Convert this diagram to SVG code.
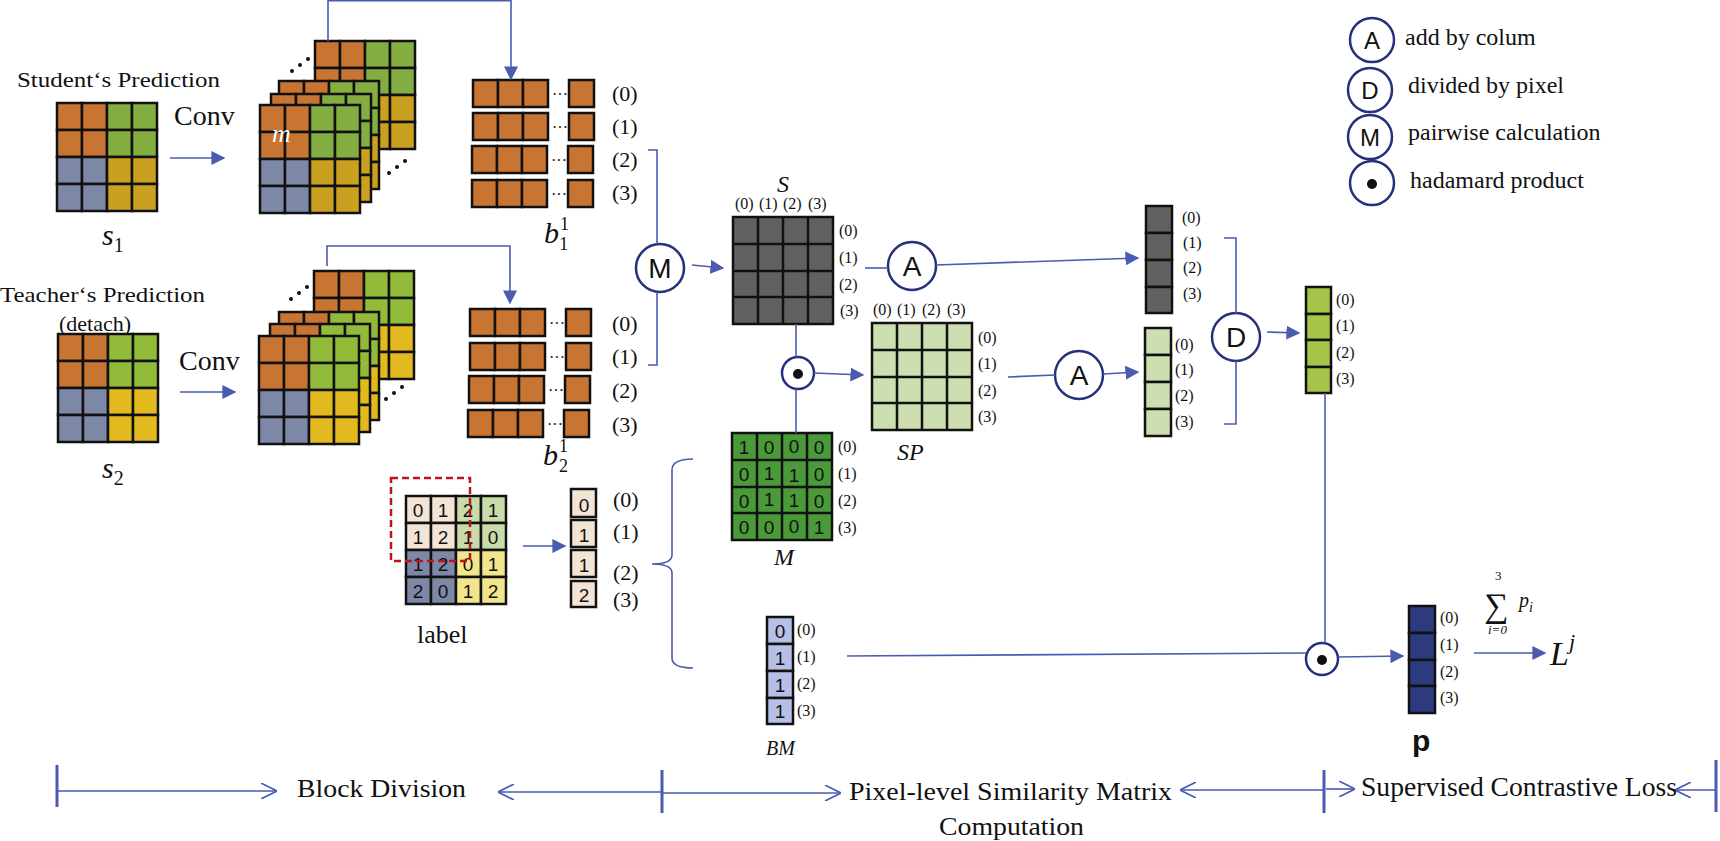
<svg xmlns="http://www.w3.org/2000/svg" xmlns:xlink="http://www.w3.org/1999/xlink" width="1720" height="841" viewBox="0 0 1720 841">
<style>
.c{stroke:#111;stroke-width:2.5}
.o{fill:#c87533}.g{fill:#84ad42}.b{fill:#7d87a6}.y{fill:#c9a020}.g2{fill:#92bb3a}.y2{fill:#e2b91e}
.ln{fill:none;stroke:#4a5bb0;stroke-width:1.6}
.op{fill:#fff;stroke:#27307a;stroke-width:2.5}
.sym{font-family:"Liberation Sans",Arial,sans-serif;font-size:28px;fill:#111;text-anchor:middle}
.ser{font-family:"Liberation Serif","Times New Roman",serif;fill:#111}
.idx{font-family:"Liberation Serif","Times New Roman",serif;font-size:16px;fill:#111}
.idb{font-family:"Liberation Serif","Times New Roman",serif;font-size:22px;fill:#111}
.it{font-family:"Liberation Serif","Times New Roman",serif;font-style:italic;fill:#111}
.num{font-family:"Liberation Sans",Arial,sans-serif;font-size:19px;fill:#111;text-anchor:middle}
.dt{fill:#111}
</style>
<defs>
<marker id="ah" viewBox="0 0 10 10" refX="9" refY="5" markerWidth="8" markerHeight="8" orient="auto" markerUnits="userSpaceOnUse"><path d="M0,0 L10,5 L0,10 z" fill="#4a5bb0"/></marker>
<marker id="ah2" viewBox="0 0 10 10" refX="9" refY="5" markerWidth="14" markerHeight="14" orient="auto" markerUnits="userSpaceOnUse"><path d="M0,0 L10,5 L0,10 z" fill="#4a5bb0"/></marker>
<marker id="chev" viewBox="0 0 10 10" refX="10" refY="5" markerWidth="16" markerHeight="16" orient="auto" markerUnits="userSpaceOnUse"><path d="M0,0 L10,5 L0,10" fill="none" stroke="#4a5bb0" stroke-width="1"/></marker>
<g id="gA">
<rect class="c o" x="0" y="0" width="25" height="27"/><rect class="c o" x="25" y="0" width="25" height="27"/><rect class="c g" x="50" y="0" width="25" height="27"/><rect class="c g" x="75" y="0" width="25" height="27"/>
<rect class="c o" x="0" y="27" width="25" height="27"/><rect class="c o" x="25" y="27" width="25" height="27"/><rect class="c g" x="50" y="27" width="25" height="27"/><rect class="c g" x="75" y="27" width="25" height="27"/>
<rect class="c b" x="0" y="54" width="25" height="27"/><rect class="c b" x="25" y="54" width="25" height="27"/><rect class="c y" x="50" y="54" width="25" height="27"/><rect class="c y" x="75" y="54" width="25" height="27"/>
<rect class="c b" x="0" y="81" width="25" height="27"/><rect class="c b" x="25" y="81" width="25" height="27"/><rect class="c y" x="50" y="81" width="25" height="27"/><rect class="c y" x="75" y="81" width="25" height="27"/>
</g>
<g id="gB">
<rect class="c o" x="0" y="0" width="25" height="27"/><rect class="c o" x="25" y="0" width="25" height="27"/><rect class="c g2" x="50" y="0" width="25" height="27"/><rect class="c g2" x="75" y="0" width="25" height="27"/>
<rect class="c o" x="0" y="27" width="25" height="27"/><rect class="c o" x="25" y="27" width="25" height="27"/><rect class="c g2" x="50" y="27" width="25" height="27"/><rect class="c g2" x="75" y="27" width="25" height="27"/>
<rect class="c b" x="0" y="54" width="25" height="27"/><rect class="c b" x="25" y="54" width="25" height="27"/><rect class="c y2" x="50" y="54" width="25" height="27"/><rect class="c y2" x="75" y="54" width="25" height="27"/>
<rect class="c b" x="0" y="81" width="25" height="27"/><rect class="c b" x="25" y="81" width="25" height="27"/><rect class="c y2" x="50" y="81" width="25" height="27"/><rect class="c y2" x="75" y="81" width="25" height="27"/>
</g>
<g id="brow">
<rect class="c o" x="0" y="0" width="25" height="27"/><rect class="c o" x="25" y="0" width="25" height="27"/><rect class="c o" x="50" y="0" width="25" height="27"/>
<text x="79" y="20" class="idx">···</text>
<rect class="c o" x="96" y="0" width="25" height="27"/>
</g>
<g id="dots"><circle cx="0" cy="14" r="2" class="dt"/><circle cx="8" cy="8" r="2" class="dt"/><circle cx="16" cy="2" r="2" class="dt"/></g>
</defs>

<!-- Legend -->
<g id="legend">
<circle class="op" cx="1372" cy="40" r="22"/><text class="sym" x="1372" y="49" style="font-size:24px">A</text>
<text class="ser" x="1405" y="45" font-size="24">add by colum</text>
<circle class="op" cx="1370" cy="90" r="22"/><text class="sym" x="1370" y="99" style="font-size:24px">D</text>
<text class="ser" x="1408" y="93" font-size="24">divided by pixel</text>
<circle class="op" cx="1370" cy="137" r="22"/><text class="sym" x="1370" y="146" style="font-size:24px">M</text>
<text class="ser" x="1408" y="140" font-size="24">pairwise calculation</text>
<circle class="op" cx="1372" cy="183" r="22"/><circle cx="1372" cy="184" r="5" class="dt"/>
<text class="ser" x="1410" y="188" font-size="24">hadamard product</text>
</g>

<!-- Student -->
<g id="student">
<text class="ser" x="17" y="87" font-size="22" textLength="203" lengthAdjust="spacingAndGlyphs">Student‘s Prediction</text>
<use xlink:href="#gA" x="57" y="103"/>
<text class="it" x="102" y="245" font-size="30">s<tspan font-size="20" dy="7" font-style="normal">1</tspan></text>
<text class="ser" x="174" y="125" font-size="28">Conv</text>
</g>
<g id="stack1">
<use xlink:href="#gA" x="315" y="41"/>
<use xlink:href="#gA" x="279" y="81"/>
<use xlink:href="#gA" x="271" y="94"/>
<use xlink:href="#gA" x="260" y="105"/>
<text class="it" x="272" y="142" font-size="26" fill="#fff" style="fill:#fff">m</text>
<use xlink:href="#dots" x="292" y="57"/>
<use xlink:href="#dots" x="389" y="159"/>
</g>
<g id="b11">
<use xlink:href="#brow" x="473" y="80"/>
<use xlink:href="#brow" x="473" y="113"/>
<use xlink:href="#brow" x="472" y="146"/>
<use xlink:href="#brow" x="472" y="180"/>
<text class="idb" x="612" y="101">(0)</text><text class="idb" x="612" y="134">(1)</text><text class="idb" x="612" y="167">(2)</text><text class="idb" x="612" y="200">(3)</text>
<text class="it" x="544" y="243" font-size="30">b<tspan font-size="18" dx="1" dy="-13" font-style="normal">1</tspan><tspan font-size="18" dx="-9" dy="20" font-style="normal">1</tspan></text>
</g>

<!-- Teacher -->
<g id="teacher">
<text class="ser" x="0" y="302" font-size="22" textLength="205" lengthAdjust="spacingAndGlyphs">Teacher‘s Prediction</text>
<text class="ser" x="59" y="331" font-size="22">(detach)</text>
<use xlink:href="#gB" x="58" y="334"/>
<text class="it" x="102" y="478" font-size="30">s<tspan font-size="20" dy="7" font-style="normal">2</tspan></text>
<text class="ser" x="179" y="370" font-size="28">Conv</text>
</g>
<g id="stack2">
<use xlink:href="#gB" x="314" y="271"/>
<use xlink:href="#gB" x="279" y="312"/>
<use xlink:href="#gB" x="270" y="324"/>
<use xlink:href="#gB" x="259" y="336"/>
<use xlink:href="#dots" x="291" y="285"/>
<use xlink:href="#dots" x="386" y="385"/>
</g>
<g id="b21">
<use xlink:href="#brow" x="470" y="309"/>
<use xlink:href="#brow" x="470" y="343"/>
<use xlink:href="#brow" x="469" y="376"/>
<use xlink:href="#brow" x="468" y="410"/>
<text class="idb" x="612" y="331">(0)</text><text class="idb" x="612" y="364">(1)</text><text class="idb" x="612" y="398">(2)</text><text class="idb" x="612" y="432">(3)</text>
<text class="it" x="543" y="465" font-size="30">b<tspan font-size="18" dx="1" dy="-13" font-style="normal">1</tspan><tspan font-size="18" dx="-9" dy="20" font-style="normal">2</tspan></text>
</g>

<!-- label -->
<g id="label">
<rect class="c" fill="#f3e4d6" x="406" y="496" width="25" height="27"/><rect class="c" fill="#f3e4d6" x="431" y="496" width="25" height="27"/><rect class="c" fill="#c9dba9" x="456" y="496" width="25" height="27"/><rect class="c" fill="#c9dba9" x="481" y="496" width="25" height="27"/>
<rect class="c" fill="#f3e4d6" x="406" y="523" width="25" height="27"/><rect class="c" fill="#f3e4d6" x="431" y="523" width="25" height="27"/><rect class="c" fill="#c9dba9" x="456" y="523" width="25" height="27"/><rect class="c" fill="#c9dba9" x="481" y="523" width="25" height="27"/>
<rect class="c" fill="#7d87a6" x="406" y="550" width="25" height="27"/><rect class="c" fill="#7d87a6" x="431" y="550" width="25" height="27"/><rect class="c" fill="#f3e58c" x="456" y="550" width="25" height="27"/><rect class="c" fill="#f3e58c" x="481" y="550" width="25" height="27"/>
<rect class="c" fill="#7d87a6" x="406" y="577" width="25" height="27"/><rect class="c" fill="#7d87a6" x="431" y="577" width="25" height="27"/><rect class="c" fill="#f3e58c" x="456" y="577" width="25" height="27"/><rect class="c" fill="#f3e58c" x="481" y="577" width="25" height="27"/>
<text class="num" x="418" y="517">0</text><text class="num" x="443" y="517">1</text><text class="num" x="468" y="517">2</text><text class="num" x="493" y="517">1</text>
<text class="num" x="418" y="544">1</text><text class="num" x="443" y="544">2</text><text class="num" x="468" y="544">1</text><text class="num" x="493" y="544">0</text>
<text class="num" x="418" y="571">1</text><text class="num" x="443" y="571">2</text><text class="num" x="468" y="571">0</text><text class="num" x="493" y="571">1</text>
<text class="num" x="418" y="598">2</text><text class="num" x="443" y="598">0</text><text class="num" x="468" y="598">1</text><text class="num" x="493" y="598">2</text>
<rect x="391" y="478" width="79" height="83" fill="none" stroke="#c0141c" stroke-width="2.5" stroke-dasharray="7,4"/>
<text class="ser" x="417" y="643" font-size="26">label</text>
</g>
<g id="labelcol">
<rect class="c" fill="#f3e4d6" x="571" y="489" width="25" height="28"/><rect class="c" fill="#f3e4d6" x="571" y="520" width="25" height="27"/><rect class="c" fill="#f3e4d6" x="571" y="550" width="25" height="27"/><rect class="c" fill="#f3e4d6" x="571" y="581" width="25" height="26"/>
<text class="num" x="584" y="512">0</text><text class="num" x="584" y="542">1</text><text class="num" x="584" y="572">1</text><text class="num" x="584" y="602">2</text>
<text class="idb" x="613" y="507">(0)</text><text class="idb" x="613" y="539">(1)</text><text class="idb" x="613" y="580">(2)</text><text class="idb" x="613" y="607">(3)</text>
</g>

<!-- S matrix -->
<g id="S">
<rect x="733" y="217" width="100" height="107" fill="#636060" stroke="#111" stroke-width="2.5"/>
<path d="M758,217V324M783,217V324M808,217V324M733,244H833M733,271H833M733,297H833" stroke="#111" stroke-width="2.5"/>
<text class="it" x="777" y="192" font-size="24">S</text>
<text class="idx" x="735" y="209">(0)</text><text class="idx" x="759" y="209">(1)</text><text class="idx" x="783" y="209">(2)</text><text class="idx" x="808" y="209">(3)</text>
<text class="idx" x="839" y="236">(0)</text><text class="idx" x="839" y="263">(1)</text><text class="idx" x="839" y="290">(2)</text><text class="idx" x="840" y="316">(3)</text>
</g>
<!-- SP matrix -->
<g id="SP">
<rect x="872" y="323" width="100" height="107" fill="#cddeb0" stroke="#111" stroke-width="2.5"/>
<path d="M897,323V430M922,323V430M947,323V430M872,350H972M872,377H972M872,403H972" stroke="#111" stroke-width="2.5"/>
<text class="idx" x="873" y="315">(0)</text><text class="idx" x="897" y="315">(1)</text><text class="idx" x="922" y="315">(2)</text><text class="idx" x="947" y="315">(3)</text>
<text class="idx" x="978" y="343">(0)</text><text class="idx" x="978" y="369">(1)</text><text class="idx" x="978" y="396">(2)</text><text class="idx" x="978" y="422">(3)</text>
<text class="it" x="897" y="460" font-size="24">SP</text>
</g>
<!-- M matrix -->
<g id="Mmat">
<rect x="732" y="433" width="100" height="107" fill="#4a9a3a" stroke="#111" stroke-width="2.5"/>
<path d="M757,433V540M782,433V540M807,433V540M732,460H832M732,487H832M732,513H832" stroke="#111" stroke-width="2.5"/>
<text class="num" x="744" y="454">1</text><text class="num" x="769" y="454">0</text><text class="num" x="794" y="453">0</text><text class="num" x="819" y="454">0</text>
<text class="num" x="744" y="481">0</text><text class="num" x="769" y="480">1</text><text class="num" x="794" y="482">1</text><text class="num" x="819" y="481">0</text>
<text class="num" x="744" y="508">0</text><text class="num" x="769" y="506">1</text><text class="num" x="794" y="507">1</text><text class="num" x="819" y="508">0</text>
<text class="num" x="744" y="534">0</text><text class="num" x="769" y="534">0</text><text class="num" x="794" y="533">0</text><text class="num" x="819" y="534">1</text>
<text class="idx" x="838" y="452">(0)</text><text class="idx" x="838" y="479">(1)</text><text class="idx" x="838" y="506">(2)</text><text class="idx" x="838" y="533">(3)</text>
<text class="it" x="774" y="565" font-size="24">M</text>
</g>
<!-- BM -->
<g id="BM">
<rect class="c" fill="#b6bfe6" x="767" y="617" width="26" height="27"/><rect class="c" fill="#b6bfe6" x="767" y="644" width="26" height="27"/><rect class="c" fill="#b6bfe6" x="767" y="671" width="26" height="27"/><rect class="c" fill="#b6bfe6" x="767" y="698" width="26" height="26"/>
<text class="num" x="780" y="638">0</text><text class="num" x="780" y="665">1</text><text class="num" x="780" y="692">1</text><text class="num" x="780" y="718">1</text>
<text class="idx" x="797" y="635">(0)</text><text class="idx" x="797" y="662">(1)</text><text class="idx" x="797" y="689">(2)</text><text class="idx" x="797" y="716">(3)</text>
<text class="it" x="766" y="755" font-size="20">BM</text>
</g>
<!-- column vectors -->
<g id="colS">
<rect class="c" fill="#636060" x="1146" y="206" width="26" height="27"/><rect class="c" fill="#636060" x="1146" y="233" width="26" height="27"/><rect class="c" fill="#636060" x="1146" y="260" width="26" height="27"/><rect class="c" fill="#636060" x="1146" y="287" width="26" height="26"/>
<text class="idx" x="1182" y="223">(0)</text><text class="idx" x="1183" y="248">(1)</text><text class="idx" x="1183" y="273">(2)</text><text class="idx" x="1183" y="299">(3)</text>
</g>
<g id="colSP">
<rect class="c" fill="#cddeb0" x="1145" y="328" width="26" height="27"/><rect class="c" fill="#cddeb0" x="1145" y="355" width="26" height="27"/><rect class="c" fill="#cddeb0" x="1145" y="382" width="26" height="27"/><rect class="c" fill="#cddeb0" x="1145" y="409" width="26" height="27"/>
<text class="idx" x="1175" y="350">(0)</text><text class="idx" x="1175" y="375">(1)</text><text class="idx" x="1175" y="401">(2)</text><text class="idx" x="1175" y="427">(3)</text>
</g>
<g id="colD">
<rect class="c" fill="#a6c34a" x="1306" y="287" width="25" height="27"/><rect class="c" fill="#a6c34a" x="1306" y="314" width="25" height="26"/><rect class="c" fill="#a6c34a" x="1306" y="340" width="25" height="27"/><rect class="c" fill="#a6c34a" x="1306" y="367" width="25" height="26"/>
<text class="idx" x="1336" y="305">(0)</text><text class="idx" x="1336" y="331">(1)</text><text class="idx" x="1336" y="358">(2)</text><text class="idx" x="1336" y="384">(3)</text>
</g>
<g id="p">
<rect class="c" fill="#2e3a80" x="1409" y="606" width="26" height="27"/><rect class="c" fill="#2e3a80" x="1409" y="633" width="26" height="27"/><rect class="c" fill="#2e3a80" x="1409" y="660" width="26" height="26"/><rect class="c" fill="#2e3a80" x="1409" y="686" width="26" height="27"/>
<text class="idx" x="1440" y="623">(0)</text><text class="idx" x="1440" y="650">(1)</text><text class="idx" x="1440" y="677">(2)</text><text class="idx" x="1440" y="703">(3)</text>
<text x="1412" y="751" font-family="Liberation Sans,Arial,sans-serif" font-weight="bold" font-size="30" fill="#111">p</text>
</g>
<g id="sum">
<text class="ser" x="1484" y="617" font-size="34">∑</text>
<text class="ser" x="1495" y="580" font-size="13">3</text>
<text class="it" x="1488" y="634" font-size="13">i=0</text>
<text class="it" x="1519" y="607" font-size="20">p<tspan font-size="14" dy="5">i</tspan></text>
<text class="it" x="1550" y="665" font-size="34">L<tspan font-size="22" dy="-16">j</tspan></text>
</g>

<!-- operators -->
<g id="opM"><circle class="op" cx="660" cy="268" r="24"/><text class="sym" x="660" y="278">M</text></g>
<g id="opA1"><circle class="op" cx="912" cy="266" r="24"/><text class="sym" x="912" y="276">A</text></g>
<g id="opA2"><circle class="op" cx="1079" cy="375" r="24"/><text class="sym" x="1079" y="385">A</text></g>
<g id="opD"><circle class="op" cx="1236" cy="337" r="24"/><text class="sym" x="1236" y="347">D</text></g>
<g id="opH1"><circle class="op" cx="798" cy="373" r="16"/><circle cx="798" cy="374" r="5" class="dt"/></g>
<g id="opH2"><circle class="op" cx="1322" cy="659" r="16"/><circle cx="1322" cy="660" r="5" class="dt"/></g>

<!-- connectors -->
<g id="connectors">
<path class="ln" d="M328,41V0.8H511V79" marker-end="url(#ah2)"/>
<path class="ln" d="M327,266V246H510V303" marker-end="url(#ah2)"/>
<path class="ln" d="M170,158H224" marker-end="url(#ah2)"/>
<path class="ln" d="M180,392H235" marker-end="url(#ah2)"/>
<path class="ln" d="M523,546H565" marker-end="url(#ah2)"/>
<path class="ln" d="M648,150H657V244M657,292V365H648"/>
<path class="ln" d="M692,265L723,268" marker-end="url(#ah2)"/>
<path class="ln" d="M865,268H888"/>
<path class="ln" d="M936,265L1138,258" marker-end="url(#ah2)"/>
<path class="ln" d="M796,324V357M796,389V433"/>
<path class="ln" d="M814,373L863,375" marker-end="url(#ah2)"/>
<path class="ln" d="M1008,377L1055,375"/>
<path class="ln" d="M1103,374L1138,372" marker-end="url(#ah2)"/>
<path class="ln" d="M1224,238H1236V313M1236,361V424H1224"/>
<path class="ln" d="M1267,332L1299,333" marker-end="url(#ah2)"/>
<path class="ln" d="M1325,393V643"/>
<path class="ln" d="M847,656L1306,653"/>
<path class="ln" d="M1338,657L1403,656" marker-end="url(#ah2)"/>
<path class="ln" d="M1474,653H1545" marker-end="url(#ah2)"/>
<path class="ln" d="M693,459Q672,459 672,470V555Q672,564 652,564Q672,564 672,573V658Q672,668 693,668"/>
</g>

<!-- timeline -->
<g id="timeline">
<path d="M57,765V807M662,770V813M1324,770V813M1716,760V812" stroke="#4a5bb0" stroke-width="3"/>
<path class="ln" d="M57,791H277" marker-end="url(#chev)"/>
<path class="ln" d="M662,792H498" marker-end="url(#chev)"/>
<path class="ln" d="M662,793H841" marker-end="url(#chev)"/>
<path class="ln" d="M1324,790H1180" marker-end="url(#chev)"/>
<path class="ln" d="M1326,789H1355" marker-end="url(#chev)"/>
<path class="ln" d="M1716,790H1675" marker-end="url(#chev)"/>
<text class="ser" x="297" y="797" font-size="25" textLength="169" lengthAdjust="spacingAndGlyphs">Block Division</text>
<text class="ser" x="849" y="800" font-size="25" textLength="323" lengthAdjust="spacingAndGlyphs">Pixel-level Similarity Matrix</text>
<text class="ser" x="939" y="835" font-size="25" textLength="145" lengthAdjust="spacingAndGlyphs">Computation</text>
<text class="ser" x="1361" y="796" font-size="27" textLength="316" lengthAdjust="spacingAndGlyphs">Supervised Contrastive Loss</text>
</g>
</svg>
